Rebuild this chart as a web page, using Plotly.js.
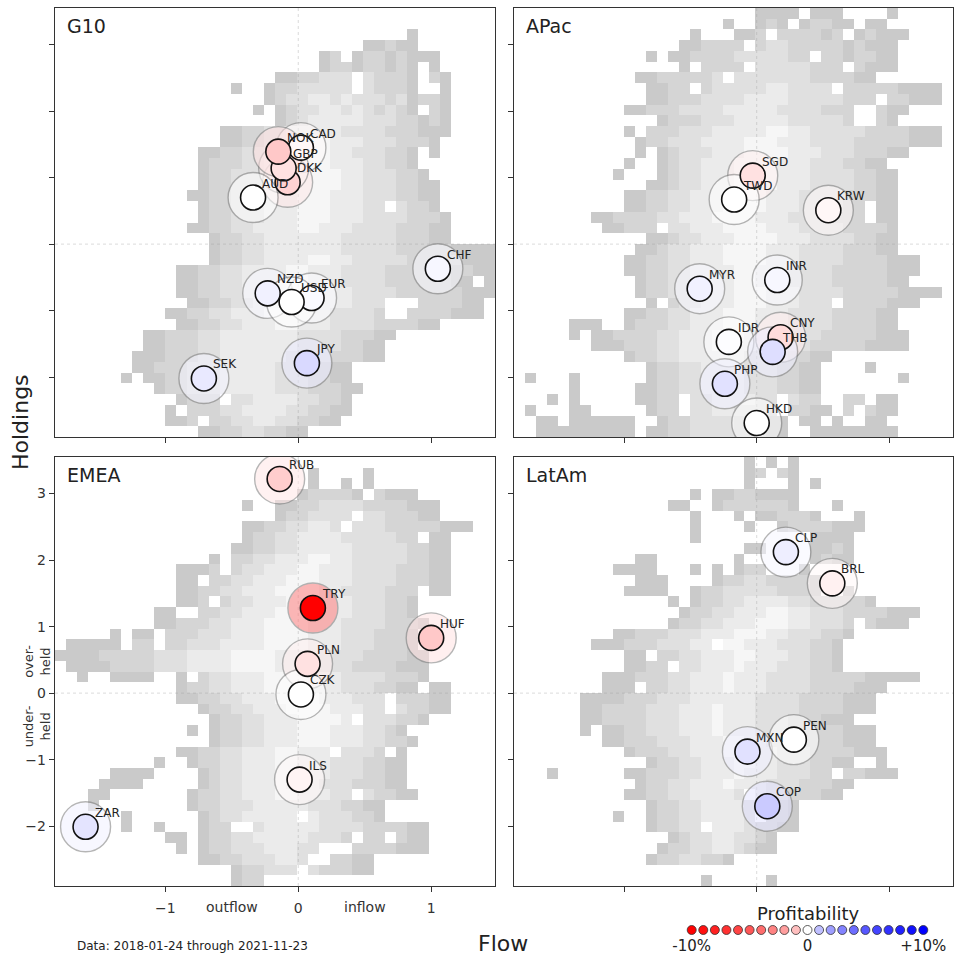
<!DOCTYPE html>
<html><head><meta charset="utf-8">
<script src="https://cdn.plot.ly/plotly-3.0.1.min.js"></script>
<style>html,body{margin:0;padding:0;background:#fff}#chart{width:955px;height:958px}</style>
</head><body><div id="chart"></div>
<script>
// ---------- DATA ----------
const g10Codes = ['CAD','DKK','GBP','NOK','AUD','CHF','NZD','EUR','USD','JPY','SEK'];
const g10Flow = [0.02, -0.08, -0.11, -0.15, -0.34, 1.05, -0.23, 0.10, -0.05, 0.065, -0.71];
const g10Holdings = [1.45, 0.93, 1.14, 1.39, 0.70, -0.37, -0.74, -0.81, -0.87, -1.79, -2.02];
const g10Profit = [-0.05, -0.57, -0.29, -0.80, 0.0, 0.05, 0.09, 0.03, 0.0, 0.42, 0.18];

const apacCodes = ['SGD','TWD','KRW','MYR','INR','IDR','CNY','THB','PHP','HKD'];
const apacFlow = [-0.03, -0.17, 0.54, -0.43, 0.155, -0.21, 0.18, 0.12, -0.24, 0.0];
const apacHoldings = [1.03, 0.67, 0.51, -0.67, -0.54, -1.47, -1.40, -1.62, -2.10, -2.69];
const apacProfit = [-0.29, 0.0, -0.05, 0.09, 0.05, 0.01, -0.38, 0.33, 0.29, 0.0];

const emeaCodes = ['RUB','TRY','HUF','PLN','CZK','ILS','ZAR'];
const emeaFlow = [-0.14, 0.11, 1.0, 0.07, 0.02, 0.01, -1.60];
const emeaHoldings = [3.22, 1.28, 0.83, 0.44, -0.02, -1.30, -2.01];
const emeaProfit = [-0.68, -10, -0.80, -0.29, 0.0, -0.07, 0.25];

const latamCodes = ['CLP','BRL','MXN','PEN','COP'];
const latamFlow = [0.22, 0.57, -0.07, 0.28, 0.08];
const latamHoldings = [2.12, 1.65, -0.88, -0.70, -1.70];
const latamProfit = [0.12, -0.09, 0.29, 0.0, 0.74];

const profitLevels = [-10,-9,-8,-7,-6,-5,-4,-3,-2,-1,0,1,2,3,4,5,6,7,8,9,10];
const xTicks = [-1, 0, 1];
const yTicks = [-2, -1, 0, 1, 2, 3];

// Background density grids, 40 x 40, top row first. "col:levels" segments, '.' = empty.
const g10Hist = [
"",
"",
"32:1",
"28:11211",
"24:12.12212111",
"24:122122121 34:1",
"20:1122333.32221.21",
"16:1 19:12233333.32221 35:1",
"19:12334434333231221",
"18:1 20:1233443432321.21",
"20:1234444433322121",
"15:112233444443333222111",
"15:11223344554443332221",
"13:11223344455544333221 34:1",
"13:12223344455544433221",
"13:122333444555544333221",
"13:1223334445555443332211",
"12:11223334445554443332211",
"13:12233344455544433.3221",
"13:12233344455544433332221",
"12:112233444455444333322211",
"14:1223344444443333322211",
"14:12233444444433333222221111",
"14:12233444455443333322222111",
"11:11223344445544433332222221211",
"11:112233444455444333322222211.1",
"11:11223344445554443333222222111",
"12:112233444555444333...222211",
"10:11223344455544433332..2222111",
"11:112233444554443333222211",
"8:11222334444444333322211",
"8:1122233444444433332211",
"7:11122233444444333322211",
"7:11222333444443332211",
"6:1.1122333444443332211",
"9:1223334444433322211",
"11:1222.33444433221",
"10:1.222334444332211",
"10:112.223344332211",
"13:1122332211"
];
const apacHist = [
"22:1111 27:111 34:1",
"19:1 22:121.12211.11",
"16:1 20:112.222212.12111",
"15:112222.2332222212111",
"12:1.1122223333322.2212211",
"15:1.2222.33333222.2111",
"11:11222223.3333333222211",
"12:1122.233333443333.222221111",
"12:112223333444433333222.22111",
"10:112223333444443333222..211",
"13:122233344444333332..21",
"10:1.222333444445544333332222111",
"11:1223334444555444333322222111",
"11:1 13:12333444555544433322211",
"10:1 13:123344455554443332211",
"9:1 13:1233444555544433332211",
"12:11233444555544433332211",
"10:1122334445555444333322211",
"10:1122334445555444333322.11",
"7:1122223344455554443333222.11",
"8:11222.334445555444333322221",
"12:11233444555544433332211",
"11:112334445555444333322211",
"10:112233444555544433332222111",
"10:112233444455444333322222111",
"11:1223344445544433332222211",
"11:1223344445554443333222221111",
"12:1.233444555444333.2222111",
"10:1122334445554443333222211",
"5:111 10:1222334445554443333222211",
"5:1 7:11222233444555444333322222111",
"7:11122233444554443333222221111",
"10:1223344444433332211",
"12:1223344443332211 32:1",
"1:1 5:1 12:1223344443332211 35:1",
"5:1 11:11223344443332211",
"3:1 5:1 11:1122.33444433.322..22.11",
"1:1 5:11 12:122.33443332.2211.2.211",
"2:11 5:111111 13:122333322211 26:11 29:1 32:11",
"2:111111111 12:1122333322211 27:11111111"
];
const emeaHist = [
"",
"23:1 28:1",
"23:1 26:1 28:1",
"22:122221.2111",
"17:1 20:112233332222111",
"20:1223333.3322211",
"17:112233443.33322222111",
"17:1223344443333322.11",
"16:11223344444333332211",
"14:1.22334445544333332211",
"11:1112.23344455444333322211",
"11:11.2233444555444333322211",
"11:1122334445555443333222.11",
"11:112.233444555444333221",
"9:11..22334445555444333221",
"9:1122233444555544433332221",
"5:1.11.22233344455554443332221",
"1:11111.22.22333444455554443332221",
"0:1111222223334444555544443333222211",
"1:111122223334444555544433332222111",
"2:1 5:1111 11:1.233444555544433332221",
"11:1223344455554443332211 34:11",
"11:1122334445555444333.22211",
"13:12233444555544433.32211",
"14:1223344455554.333221",
"12:1 14:122334445554443321",
"14:1223344455544433221",
"11:11223344455444.3332.1",
"9:1 12:12233444554443332211",
"5:1111 13:1233444554443332211",
"4:1111 13:1233444544433322211",
"3:11 12:122334445544433.32211",
"3:1 12:122333444443332211",
"6:1 13:123344444.4333221",
"6:1 9:1 13:122..3444443333222211",
"10:11 13:12233444443332.22.211",
"11:1 13:12233344433...2222111",
"13:1122333443..2211",
"16:122333.322211",
"16:122"
];
const latamHist = [
"21:1.1.1",
"21:12.21",
"21:1 25:1 27:1",
"16:1 18:11221111",
"14:11 18:12222221 29:1",
"16:1 20:1 22:112221 31:1",
"16:1 21:1 24:1222211 31:1",
"16:1 27:1111",
"21:11 27:1121",
"11:11 20:1 27:1211",
"9:1111 16:1 18:1 20:122 26:1",
"11:111 18:1223322221",
"10:1111 16:122333332221 30:1",
"14:1 16:12233444433222221",
"15:1223344455443332222111",
"14:12233444555443332.2111",
"9:1122233344455544333221",
"7:11122233344.55444333221",
"10:11.22334445544433221",
"10:1122.334445444333221",
"8:11122233444544433332222211111",
"8:111.2233444544433332222111",
"6:111122233344444433332222111",
"6:112222333444544433332222111",
"6:1122223334445444333222111",
"6:1 8:1122333444544433322222111",
"8:1122233344455443332222111",
"10:122233444554443332222111",
"12:1223344455443332211 33:1",
"3:1 10:1122233444544433322.22111",
"11:12233444544433322211",
"10:11223344443.43322211",
"12:12233444433221",
"9:1 12:1223344443.221",
"12:12233.44432211",
"14:1233443321",
"13:12233443211",
"12:12233221",
"",
"17:1 23:1"
];

// ---------- STYLE / SCALES ----------
const FONT = 'DejaVu Sans, Liberation Sans, sans-serif';
const X_RANGE = [-1.83, 1.48];
const Y_RANGE = [-2.9, 3.55];
const NBINS = 40;
const HIST_SCALE = [[0,'#cacaca'],[0.25,'#d5d5d5'],[0.5,'#e0e0e0'],[0.75,'#ebebeb'],[1,'#f6f6f6']];
const PROFIT_STOPS = [
  [0,255,0,0],[0.15,255,49,49],[0.25,255,87,87],[0.35,255,131,131],
  [0.4,255,158,158],[0.45,255,191,191],[0.475,255,213,213],[0.485,255,224,224],
  [0.495,255,239,239],[0.5,255,255,255],[0.505,239,239,255],[0.515,224,224,255],
  [0.525,213,213,255],[0.55,191,191,255],[0.6,158,158,255],[0.65,131,131,255],
  [0.75,87,87,255],[0.85,49,49,255],[1,0,0,255]
];
const PROFIT_SCALE = PROFIT_STOPS.map(s => [s[0], `rgb(${s[1]},${s[2]},${s[3]})`]);
// halo: same hues, washed half-way to white
const HALO_SCALE = PROFIT_STOPS.map(s => [s[0],
  `rgb(${Math.round((s[1]+255)/2)},${Math.round((s[2]+255)/2)},${Math.round((s[3]+255)/2)})`]);

function parseGrid(rows) {
  const grid = [];
  for (let r = 0; r < NBINS; r++) {
    const line = new Array(NBINS).fill(null);
    const row = rows[r] || '';
    row.split(' ').filter(Boolean).forEach(seg => {
      const parts = seg.split(':');
      let c = parseInt(parts[0], 10);
      for (const ch of parts[1]) {
        if (c >= 0 && c < NBINS && ch !== '.') line[c] = parseInt(ch, 10);
        c++;
      }
    });
    grid.push(line);
  }
  return grid;
}

const traces = [];
const annotations = [];

function addPanel(codes, flow, hold, profit, hist, xa, ya, title) {
  const dx = (X_RANGE[1] - X_RANGE[0]) / NBINS;
  const dy = (Y_RANGE[1] - Y_RANGE[0]) / NBINS;
  traces.push({
    type: 'heatmap', z: parseGrid(hist).reverse(),
    x0: X_RANGE[0] + dx / 2, dx: dx, y0: Y_RANGE[0] + dy / 2, dy: dy,
    xaxis: xa, yaxis: ya, colorscale: HIST_SCALE, zmin: 1, zmax: 5,
    showscale: false, hoverinfo: 'skip', zsmooth: false
  });
  const zl = {color: 'rgba(150,150,150,0.45)', width: 0.8, dash: 'dot'};
  traces.push({type: 'scatter', mode: 'lines', x: [0, 0], y: Y_RANGE, xaxis: xa, yaxis: ya, line: zl, hoverinfo: 'skip', showlegend: false});
  traces.push({type: 'scatter', mode: 'lines', x: X_RANGE, y: [0, 0], xaxis: xa, yaxis: ya, line: zl, hoverinfo: 'skip', showlegend: false});
  traces.push({
    type: 'scatter', mode: 'markers', x: flow, y: hold, xaxis: xa, yaxis: ya,
    marker: {size: 50, color: profit, cmin: -10, cmax: 10, colorscale: HALO_SCALE, opacity: 0.55,
             line: {color: '#7a7a7a', width: 1.4}},
    hoverinfo: 'skip', showlegend: false
  });
  traces.push({
    type: 'scatter', mode: 'markers', x: flow, y: hold, xaxis: xa, yaxis: ya,
    marker: {size: 25, color: profit, cmin: -10, cmax: 10, colorscale: PROFIT_SCALE,
             line: {color: '#111', width: 1.6}},
    hoverinfo: 'skip', showlegend: false
  });
  codes.forEach((c, i) => {
    annotations.push({xref: xa, yref: ya, x: flow[i], y: hold[i], text: c, showarrow: false,
      xanchor: 'left', yanchor: 'middle', xshift: 7, yshift: 14,
      font: {family: FONT, size: 12, color: '#222'}});
  });
  const xr = xa === 'x' ? 'x domain' : xa + ' domain';
  const yr = ya === 'y' ? 'y domain' : ya + ' domain';
  annotations.push({xref: xr, yref: yr, x: 0.022, y: 0.958, text: title, showarrow: false,
    xanchor: 'left', yanchor: 'middle', font: {family: FONT, size: 19, color: '#222'}});
}

addPanel(g10Codes, g10Flow, g10Holdings, g10Profit, g10Hist, 'x', 'y', 'G10');
addPanel(apacCodes, apacFlow, apacHoldings, apacProfit, apacHist, 'x2', 'y2', 'APac');
addPanel(emeaCodes, emeaFlow, emeaHoldings, emeaProfit, emeaHist, 'x3', 'y3', 'EMEA');
addPanel(latamCodes, latamFlow, latamHoldings, latamProfit, latamHist, 'x4', 'y4', 'LatAm');

// profitability legend
traces.push({
  type: 'scatter', mode: 'markers', x: profitLevels, y: profitLevels.map(() => 0),
  xaxis: 'x5', yaxis: 'y5',
  marker: {size: 9, color: profitLevels, cmin: -10, cmax: 10, colorscale: PROFIT_SCALE,
           line: {color: '#333', width: 0.8}},
  hoverinfo: 'skip', showlegend: false
});

const W = 955, H = 958;
const colL = [55 / W, 495 / W], colR = [514 / W, 953 / W];
const rowT = [1 - 437 / H, 1 - 8 / H], rowB = [1 - 886 / H, 1 - 457 / H];

function xAxis(domain, anchor, labels) {
  return {domain: domain, anchor: anchor, range: X_RANGE, tickvals: xTicks, showticklabels: labels,
    ticks: 'outside', ticklen: 5, tickwidth: 1, tickcolor: '#333', showline: true, mirror: true,
    linecolor: '#333', linewidth: 1.2, showgrid: false, zeroline: false, ticklabelstandoff: 4,
    tickfont: {family: FONT, size: 14, color: '#333'}};
}
function yAxis(domain, anchor, labels) {
  return {domain: domain, anchor: anchor, range: Y_RANGE, tickvals: yTicks, showticklabels: labels,
    ticks: 'outside', ticklen: 5, tickwidth: 1, tickcolor: '#333', showline: true, mirror: true,
    linecolor: '#333', linewidth: 1.2, showgrid: false, zeroline: false,
    tickfont: {family: FONT, size: 14, color: '#333'}};
}

annotations.push(
  {xref: 'x3', yref: 'paper', x: -0.5, y: 1 - 907 / H, text: 'outflow', showarrow: false, yanchor: 'middle', font: {family: FONT, size: 14, color: '#333'}},
  {xref: 'x3', yref: 'paper', x: 0.5, y: 1 - 907 / H, text: 'inflow', showarrow: false, yanchor: 'middle', font: {family: FONT, size: 14, color: '#333'}},
  {xref: 'paper', yref: 'y3', x: 37 / W, y: 0.47, text: 'over-<br>held', textangle: -90, showarrow: false, xanchor: 'center', yanchor: 'middle', font: {family: FONT, size: 13, color: '#333'}},
  {xref: 'paper', yref: 'y3', x: 37 / W, y: -0.5, text: 'under-<br>held', textangle: -90, showarrow: false, xanchor: 'center', yanchor: 'middle', font: {family: FONT, size: 13, color: '#333'}},
  {xref: 'paper', yref: 'paper', x: 20 / W, y: 1 - 422 / H, text: 'Holdings', textangle: -90, showarrow: false, xanchor: 'center', yanchor: 'middle', font: {family: FONT, size: 22, color: '#222'}},
  {xref: 'paper', yref: 'paper', x: 503 / W, y: 1 - 943 / H, text: 'Flow', showarrow: false, xanchor: 'center', yanchor: 'middle', font: {family: FONT, size: 22, color: '#222'}},
  {xref: 'paper', yref: 'paper', x: 75 / W, y: 1 - 946 / H, text: 'Data: 2018-01-24 through 2021-11-23', showarrow: false, xanchor: 'left', yanchor: 'middle', font: {family: FONT, size: 12, color: '#222'}},
  {xref: 'paper', yref: 'paper', x: 808 / W, y: 1 - 913 / H, text: 'Profitability', showarrow: false, xanchor: 'center', yanchor: 'middle', font: {family: FONT, size: 18, color: '#222'}}
);

const layout = {
  width: W, height: H, margin: {l: 0, r: 0, t: 0, b: 0},
  paper_bgcolor: '#fff', plot_bgcolor: '#fff', showlegend: false,
  font: {family: FONT, color: '#222'},
  xaxis: xAxis(colL, 'y', false), yaxis: yAxis(rowT, 'x', false),
  xaxis2: xAxis(colR, 'y2', false), yaxis2: yAxis(rowT, 'x2', false),
  xaxis3: xAxis(colL, 'y3', true), yaxis3: yAxis(rowB, 'x3', true),
  xaxis4: xAxis(colR, 'y4', false), yaxis4: yAxis(rowB, 'x4', false),
  xaxis5: {domain: [685.9 / W, 929.1 / W], anchor: 'y5', range: [-10.5, 10.5], tickvals: [-10, 0, 10],
           ticktext: ['-10%', '0', '+10%'], ticks: '', showline: false, showgrid: false, zeroline: false,
           tickfont: {family: FONT, size: 15, color: '#222'}, ticklabelstandoff: 0},
  yaxis5: {domain: [1 - 935 / H, 1 - 925 / H], anchor: 'x5', range: [-1, 1], visible: false},
  annotations: annotations
};

Plotly.newPlot('chart', traces, layout, {staticPlot: true, displayModeBar: false});
</script></body></html>
